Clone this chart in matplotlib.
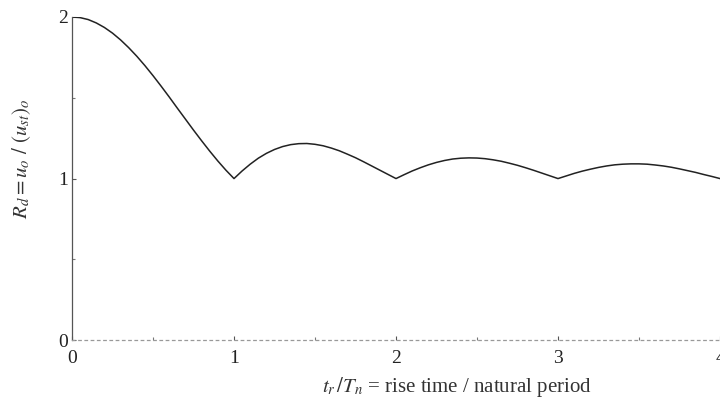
import matplotlib
matplotlib.use('Agg')
import matplotlib.pyplot as plt

plt.rcParams['font.family'] = ['Liberation Serif', 'DejaVu Serif']
plt.rcParams['mathtext.fontset'] = 'stix'

# ratio t_r / T_n and response factor
ratio = [0.00, 0.05, 0.10, 0.15, 0.20, 0.25, 0.30, 0.35, 0.40, 0.45,
         0.50, 0.55, 0.60, 0.65, 0.70, 0.75, 0.80, 0.85, 0.90, 0.95,
         1.00, 1.05, 1.10, 1.15, 1.20, 1.25, 1.30, 1.35, 1.40, 1.45,
         1.50, 1.55, 1.60, 1.65, 1.70, 1.75, 1.80, 1.85, 1.90, 1.95,
         2.00, 2.05, 2.10, 2.15, 2.20, 2.25, 2.30, 2.35, 2.40, 2.45,
         2.50, 2.55, 2.60, 2.65, 2.70, 2.75, 2.80, 2.85, 2.90, 2.95,
         3.00, 3.05, 3.10, 3.15, 3.20, 3.25, 3.30, 3.35, 3.40, 3.45,
         3.50, 3.55, 3.60, 3.65, 3.70, 3.75, 3.80, 3.85, 3.90, 3.95, 4.00]
rd = [2.000, 1.996, 1.984, 1.963, 1.935, 1.900, 1.858, 1.810, 1.757, 1.699,
      1.637, 1.572, 1.505, 1.436, 1.368, 1.300, 1.234, 1.170, 1.109, 1.052,
      1.000, 1.047, 1.089, 1.126, 1.156, 1.180, 1.198, 1.210, 1.216, 1.217,
      1.212, 1.203, 1.189, 1.172, 1.151, 1.129, 1.104, 1.078, 1.052, 1.026,
      1.000, 1.024, 1.047, 1.067, 1.085, 1.100, 1.112, 1.121, 1.126, 1.128,
      1.127, 1.123, 1.116, 1.107, 1.095, 1.082, 1.067, 1.051, 1.034, 1.017,
      1.000, 1.016, 1.032, 1.046, 1.058, 1.069, 1.078, 1.085, 1.089, 1.091,
      1.091, 1.089, 1.084, 1.078, 1.070, 1.060, 1.049, 1.038, 1.025, 1.013, 1.000]

xticks = [0, 1, 2, 3, 4]
yticks = [0, 1, 2]

fig = plt.figure(figsize=(7.2, 4.04), dpi=100)
ax = fig.add_axes([0.1, 0.158, 0.9, 0.8])

ax.plot(ratio, rd, color='#222222', linewidth=1.1)

ax.set_xlim(0, 4)
ax.set_ylim(0, 2)
ax.set_xticks(xticks)
ax.set_yticks(yticks)
ax.set_xticks([0.5, 1.5, 2.5, 3.5], minor=True)
ax.set_yticks([0.5, 1.5], minor=True)
ax.tick_params(direction='in', length=3, width=0.8, colors='#555555',
               labelcolor='#222222', labelsize=14)
ax.tick_params(which='minor', direction='in', length=2, width=0.8, colors='#777777')
ax.tick_params(axis='x', pad=7)
ax.tick_params(axis='y', pad=3)

for s in ['top', 'right']:
    ax.spines[s].set_visible(False)
ax.spines['left'].set_color('#555555')
ax.spines['left'].set_linestyle((0, (3, 1)))
ax.spines['left'].set_linewidth(0.9)
ax.spines['bottom'].set_color('#999999')
ax.spines['bottom'].set_linestyle((0, (2, 3)))
ax.spines['bottom'].set_linewidth(0.9)

ax.set_ylabel(r'$R_d = u_o\ /\ (u_{st})_o$', fontsize=15, color='#333333')
ax.yaxis.set_label_coords(-0.06, 0.56)
fig.text(0.635, 0.03, r'$t_r\,/T_n$ = rise time / natural period',
         ha='center', fontsize=15, color='#333333')

fig.savefig('out.png', dpi=100)
